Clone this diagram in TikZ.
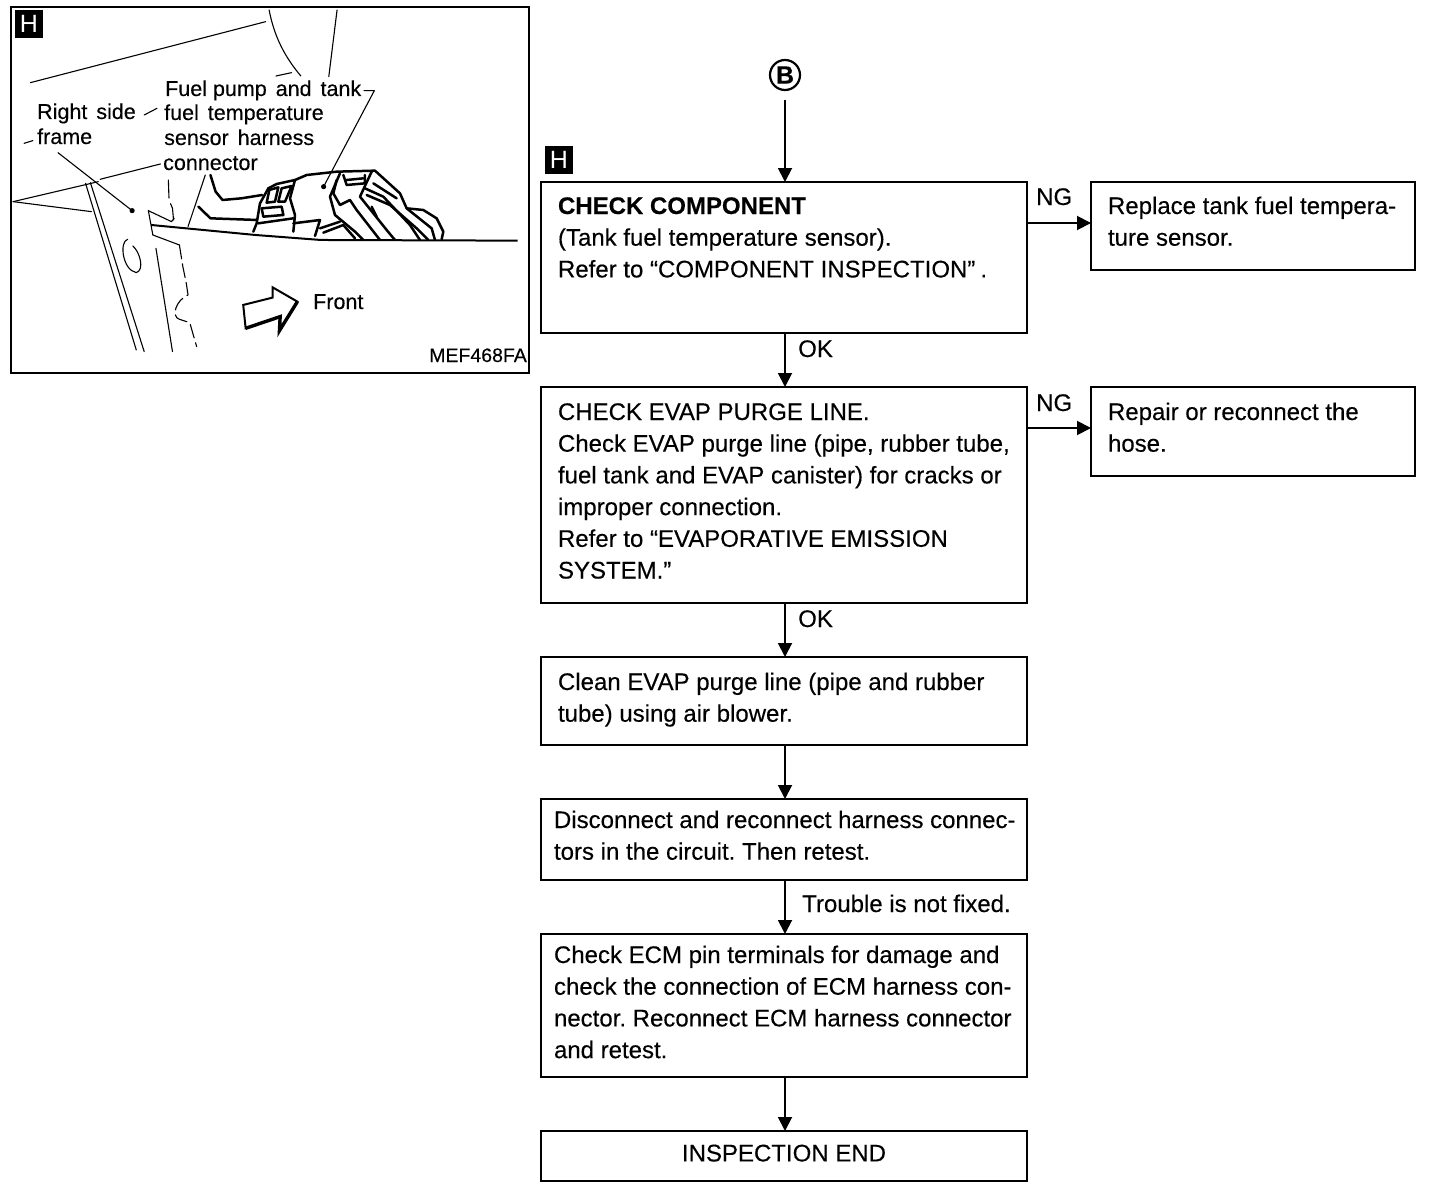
\documentclass[tikz,border=0pt]{standalone}
\usepackage{fontspec}
\setmainfont{Liberation Sans}[FakeBold=0.25]
\newfontfamily\plainf{Liberation Sans}
\frenchspacing
\usetikzlibrary{arrows.meta}
\newcommand{\bt}[3]{\parbox[c][#1pt][t]{#2pt}{\raggedright\frenchspacing\fontsize{24}{31.7}\selectfont #3}}
\newcommand{\fl}[1]{\rule{0pt}{#1pt}}
\tikzset{
  boxn/.style={draw,line width=1.9pt,anchor=north west,inner sep=0pt,outer sep=0pt,rectangle},
  flow/.style={line width=1.9pt,-{Triangle[length=14pt,width=14pt]}},
  lab/.style={anchor=base west,inner sep=0pt,font=\fontsize{24}{28}\selectfont},
  ill/.style={anchor=base west,inner sep=0pt,font=\fontsize{21.5}{24}\selectfont},
  tag/.style={fill=black,text=white,inner sep=0pt,anchor=center,font=\plainf\fontsize{25}{25}\selectfont},
  thin1/.style={line width=1.1pt,line cap=round,line join=round},
  thick1/.style={line width=2.5pt,line cap=round,line join=round}
}
\begin{document}
\begin{tikzpicture}[x=1pt,y=-1pt]
\useasboundingbox (0,0) rectangle (1440,1188);
\fill[white] (0,0) rectangle (1440,1188);
% illustration panel
\node[boxn,minimum width=518pt,minimum height=366pt] (panel) at (11,7) {};
\node[tag,minimum width=28pt,minimum height=28pt] (tagA) at (29,24) {H};
\begin{scope}[x=0.345pt,y=-0.3333pt]
\draw[thin1] (88,248) -- (770,65);
\draw[thin1] (780,30) .. controls (795,110) and (825,170) .. (872,228);
\draw[thin1] (800,228) -- (845,218);
\draw[thin1] (977,30) -- (953,230);
\draw[thin1] (1055,272) -- (1085,272) -- (938,560);
\fill (938,560) circle (2.6pt);
\draw[thin1] (418,345) -- (455,325);
\draw[thin1] (70,430) -- (95,422);
\draw[thin1] (168,458) -- (383,632);
\fill (383,632) circle (2.6pt);
\draw[thin1] (290,538) -- (465,492);
\draw[thin1] (38,605) -- (285,545);
\draw[thin1] (38,605) -- (265,635);
\draw[thin1] (248,550) -- (395,1050);
\draw[thin1] (262,548) -- (418,1055);
\draw[thin1] (370,718) .. controls (345,725) and (355,810) .. (395,818) .. controls (420,810) and (405,755) .. (385,738);
\draw[thin1] (430,632) -- (497,665) -- (505,655);
\draw[thin1] (430,632) -- (443,705) -- (520,735);
\draw[thin1,dash pattern=on 18pt off 6pt] (488,540) -- (490,600) -- (500,625) -- (503,660);
\draw[line width=2pt] (438,675) -- (740,705) -- (930,720) -- (1500,722);
\draw[thin1] (452,745) -- (500,1055);
\draw[thin1,dash pattern=on 14pt off 5pt] (520,735) -- (530,800) -- (540,850) -- (545,885) .. controls (510,900) and (495,950) .. (520,958) -- (550,968) -- (570,1040);
\draw[thin1] (595,525) -- (545,680);
\draw[thick1] (610,525) -- (625,575) -- (645,600) -- (700,595) -- (760,585);
\draw[thick1] (575,620) -- (610,655) -- (745,660);
% hollow arrow
\draw[line width=2pt,line join=miter,fill=white] (705,915) -- (790,893) -- (790,862) -- (862,905) -- (810,992) -- (812,950) -- (712,985) -- cycle;
\draw[line width=3.4pt,line join=miter] (862,905) -- (810,992) -- (812,950) -- (712,985);
\end{scope}
% harness connector
\begin{scope}[shift={(240,160)},x=0.3333pt,y=-0.3333pt]
\draw[thick1] (40,215) -- (50,190) -- (60,130) -- (85,85) -- (110,72) -- (165,60) -- (200,45) -- (290,35) -- (405,32) -- (480,100) -- (500,145) -- (550,150) -- (590,175) -- (610,215) -- (605,238);
\draw[thick1] (88,90) -- (115,82) -- (105,125) -- (80,128) -- cycle;
\draw[thick1] (125,85) -- (155,78) -- (135,125) -- (115,125) -- cycle;
\draw[thick1] (65,145) -- (125,140) -- (130,165) -- (70,170) -- cycle;
\draw[thick1] (165,60) -- (150,115) -- (165,165) -- (160,215);
\draw[thick1] (55,190) -- (160,175);
\draw[thick1] (160,190) -- (240,180) -- (225,228);
\draw[thick1] (300,40) -- (270,110) -- (285,165) -- (345,215) -- (370,240);
\draw[thick1] (290,60) -- (280,100) -- (300,135) -- (330,120) -- (350,150) -- (420,240);
\draw[thick1] (310,45) -- (320,75) -- (375,70) -- (375,45);
\draw[thick1] (320,60) -- (370,55);
\draw[thick1] (395,35) -- (360,110) -- (440,210) -- (465,240);
\draw[thick1] (375,85) -- (430,110) -- (510,195) -- (540,240);
\draw[thick1] (380,105) -- (450,135) -- (530,205) -- (565,240);
\draw[thick1] (400,70) -- (470,115);
\draw[thick1] (500,145) -- (575,205) -- (585,240);
\draw[thick1] (395,140) -- (410,170);
\draw[thick1] (240,205) -- (300,185);
\draw[thick1] (250,218) -- (310,195) -- (345,235);
\end{scope}
\node[ill] (t1) at (165,96) {Fuel pump\hspace{3pt} and\hspace{3pt} tank};
\node[ill] (t2) at (164,120) {fuel\hspace{3pt} temperature};
\node[ill] (t3) at (164,145) {sensor\hspace{3pt} harness};
\node[ill] (t4) at (163,170) {connector};
\node[ill] (t5) at (37,119) {Right\hspace{3pt} side};
\node[ill] (t6) at (37,144) {frame};
\node[ill] (t7) at (313,309) {Front};
\node[anchor=base east,inner sep=0pt,font=\fontsize{19.5}{24}\selectfont] (t8) at (527,362) {MEF468FA};
% flow chart
\node[tag,minimum width=28pt,minimum height=27pt] (tagB) at (559,160) {H};
\node[circle,draw,line width=2.2pt,minimum size=30pt,inner sep=0pt,font=\bfseries\fontsize{25}{25}\selectfont] (start) at (785,75) {B};
\coordinate (s0) at (785,100);
\node[boxn] (a) at (541,182) {\hspace*{17pt}\bt{151}{469}{\fl{32}\textbf{CHECK COMPONENT}\\(Tank fuel temperature sensor).\\Refer to “COMPONENT INSPECTION”\kern5pt.}};
\node[boxn] (r1) at (1091,182) {\hspace*{17pt}\bt{88}{307}{\fl{32}Replace tank fuel tempera-\\ture sensor.}};
\node[boxn] (b) at (541,387) {\hspace*{17pt}\bt{216}{469}{\fl{33}CHECK EVAP PURGE LINE.\\Check EVAP purge line (pipe, rubber tube,\\fuel tank and EVAP canister) for cracks or\\improper connection.\\Refer to “EVAPORATIVE EMISSION\\SYSTEM.”}};
\node[boxn] (r2) at (1091,387) {\hspace*{17pt}\bt{89}{307}{\fl{33}Repair or reconnect the\\hose.}};
\node[boxn] (c) at (541,657) {\hspace*{17pt}\bt{88}{469}{\fl{33}Clean EVAP purge line (pipe and rubber\\tube) using air blower.}};
\node[boxn] (d) at (541,799) {\hspace*{13pt}\bt{81}{473}{\fl{29}Disconnect and reconnect harness connec-\\tors in the circuit. Then retest.}};
\node[boxn] (e) at (541,934) {\hspace*{13pt}\bt{143}{473}{\fl{29}Check ECM pin terminals for damage and\\check the connection of ECM harness con-\\nector. Reconnect ECM harness connector\\and retest.}};
\node[boxn,minimum width=486pt,minimum height=50pt,font=\fontsize{24}{28}\selectfont] (f) at (541,1131) {\raisebox{6pt}{INSPECTION END}};
\draw[flow] (s0) -- (a.north -| s0);
\draw[flow] (a.south -| s0) -- (b.north -| s0);
\draw[flow] (b.south -| s0) -- (c.north -| s0);
\draw[flow] (c.south -| s0) -- (d.north -| s0);
\draw[flow] (d.south -| s0) -- (e.north -| s0);
\draw[flow] (e.south -| s0) -- (f.north -| s0);
\coordinate (ng1) at (1027,223);
\coordinate (ng2) at (1027,428);
\draw[flow] (ng1) -- (ng1 -| r1.west);
\draw[flow] (ng2) -- (ng2 -| r2.west);
\node[lab] (l1) at (1036,205) {NG};
\node[lab] (l2) at (1036,411) {NG};
\node[lab] (l3) at (798,357) {OK};
\node[lab] (l4) at (798,627) {OK};
\node[lab] (l5) at (802,912) {Trouble is not fixed.};
\end{tikzpicture}
\end{document}
